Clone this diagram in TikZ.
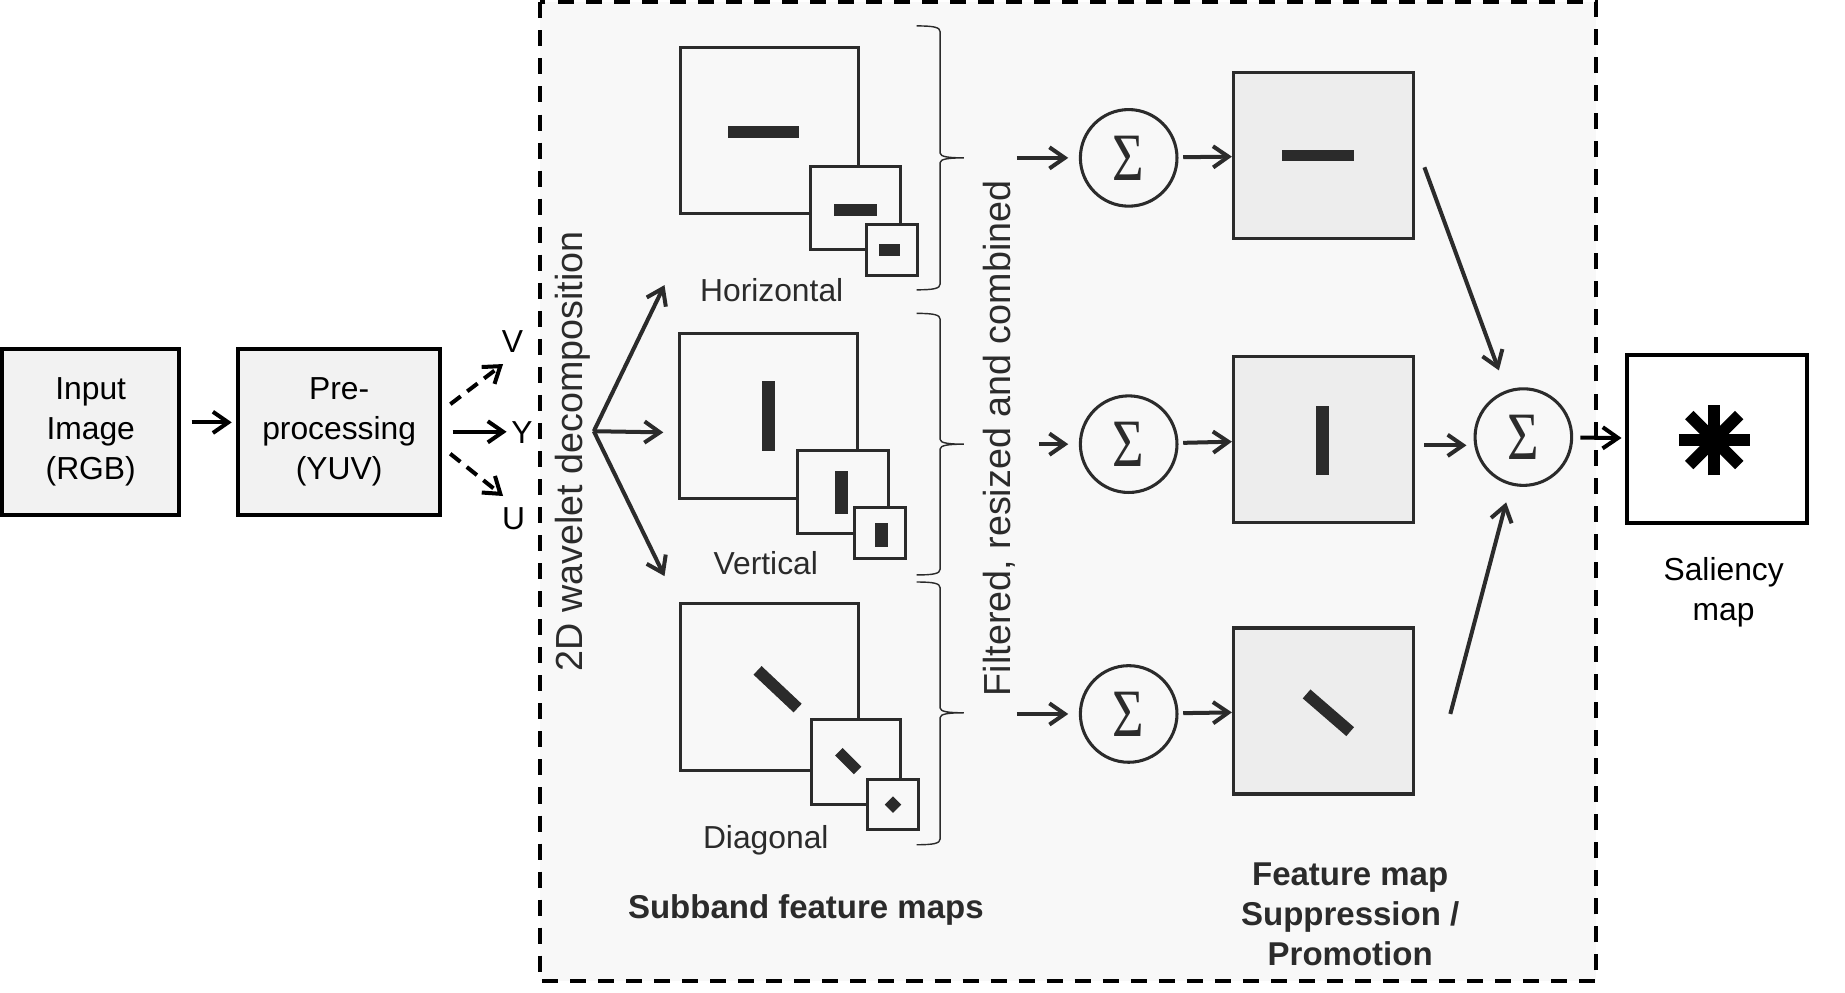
\documentclass[tikz,border=0pt]{standalone}
\usepackage{fontspec}
\setmainfont{Liberation Sans}
\newfontfamily\sigmafont{Liberation Serif}
\usepackage{graphicx}
\usepackage{tikz}
\usetikzlibrary{positioning, shapes, arrows.meta}

\definecolor{ink}{HTML}{2B2B2B}
\definecolor{blockfill}{HTML}{F2F2F2}
\definecolor{mapfill}{HTML}{EDEDED}
\definecolor{panelfill}{HTML}{F8F8F8}

\newcommand{\txt}{\fontsize{27}{34}\selectfont}
\newcommand{\sidetxt}{\fontsize{32}{38}\selectfont}
\newcommand{\sumsign}{\scalebox{1}[1.25]{\sigmafont Σ}}

\begin{document}
\begin{tikzpicture}[x=1pt, y=-1pt, >={Straight Barb[length=13pt, width=18pt]},
    block/.style={draw, line width=3.4pt, fill=blockfill, minimum width=150pt, minimum height=141pt, align=center, font=\txt, inner sep=0pt},
    submap/.style={draw=ink, line width=2.6pt, fill=panelfill, inner sep=0pt},
    featmap/.style={draw=ink, line width=2.8pt, fill=mapfill, minimum width=153pt, minimum height=141pt, inner sep=0pt},
    sumnode/.style={circle, draw=ink, line width=2.6pt, minimum size=82pt, inner sep=0pt, text=ink, font=\fontsize{46}{50}\selectfont},
    flow/.style={->, draw=ink, line width=3.4pt},
    chan/.style={->, line width=3.4pt},
    bar/.style={fill=ink, inner sep=0pt},
    tag/.style={font=\txt, text=ink},
    heading/.style={font={\fontsize{28}{34}\selectfont\bfseries}, text=ink, align=center},
    bracket/.style={draw=ink, line width=1.2pt}]
    \useasboundingbox (0,0) rectangle (1566,842);
    % Dashed panel around the wavelet stage
    \draw[dash pattern=on 13.6pt off 10.2pt, line width=3.4pt, fill=panelfill] (458,2) rectangle (1355,833);

    % Input and pre-processing
    \node[block] (inp) at (77,366.5) {Input\\Image\\(RGB)};
    \node[block, minimum width=171pt, right=47pt of inp] (pre) {Pre-\\processing\\(YUV)};
    \draw[chan, shorten <=9pt, shorten >=4pt] ([yshift=8pt]inp.east) -- ([yshift=8pt]pre.west);

    % Colour channels
    \node[font=\txt] (chv) at (435,290) {V};
    \node[font=\txt] (chy) at (443,367) {Y};
    \node[font=\txt] (chu) at (436,440) {U};
    \coordinate (vend) at (427,309);
    \coordinate (yend) at (430,366.5);
    \coordinate (uend) at (427,421);
    \draw[chan, dash pattern=on 11pt off 7pt, shorten <=9pt] ([yshift=18pt]pre.east) -- (vend);
    \draw[chan, shorten <=9pt] (pre.east) -- (yend);
    \draw[chan, dash pattern=on 11pt off 7pt, shorten <=9pt] ([yshift=-13pt]pre.east) -- (uend);

    % Wavelet decomposition
    \node[rotate=90, font=\sidetxt, text=ink] (wavelet) at (486,383) {2D wavelet decomposition};
    \coordinate (split) at (504,366);
    \coordinate (toh) at (564,242);
    \coordinate (tov) at (563,367);
    \coordinate (tod) at (564,489);
    \draw[flow] (split) -- (toh);
    \draw[flow] (split) -- (tov);
    \draw[flow] (split) -- (tod);

    % Horizontal subband
    \node[submap, minimum width=151pt, minimum height=141pt] (hbig) at (653,111) {};
    \node[submap, minimum width=76pt, minimum height=71pt] (hmid) at (726,176.5) {};
    \node[submap, minimum width=43pt, minimum height=43pt] (hsml) at (757,212) {};
    \node[bar, minimum width=61pt, minimum height=10pt] at (648,112) {};
    \node[bar, minimum width=36pt, minimum height=10pt] at (726,178) {};
    \node[bar, minimum width=18pt, minimum height=10pt] at (755,212) {};
    \node[tag] (hlabel) at (655,246) {Horizontal};

    % Vertical subband
    \node[submap, minimum width=151pt, minimum height=140pt] (vbig) at (652.5,353) {};
    \node[submap, minimum width=77pt, minimum height=71pt] (vmid) at (715.5,417.5) {};
    \node[submap, minimum width=43pt, minimum height=43pt] (vsml) at (747,452.5) {};
    \node[bar, minimum width=11pt, minimum height=60pt] at (652.5,353) {};
    \node[bar, minimum width=11pt, minimum height=36pt] at (714.5,418) {};
    \node[bar, minimum width=11pt, minimum height=20pt] at (748.5,454) {};
    \node[tag] (vlabel) at (650,478) {Vertical};

    % Diagonal subband
    \node[submap, minimum width=151pt, minimum height=142pt] (dbig) at (653,583) {};
    \node[submap, minimum width=76pt, minimum height=72pt] (dmid) at (726.5,647) {};
    \node[submap, minimum width=43pt, minimum height=42pt] (dsml) at (758,683) {};
    \draw[ink, line width=10pt] (643,569) -- (677,601);
    \draw[ink, line width=9pt] (712,638) -- (728,654);
    \fill[ink] (758,676) -- (765,683) -- (758,690) -- (751,683) -- cycle;
    \node[tag] (dlabel) at (650,713) {Diagonal};

    \node[heading] (subband) at (684,772) {Subband feature maps};

    % Braces
    \foreach \ya/\ym/\yb in {22/134/246, 266/377/488, 494/605/717}
        \draw[bracket] (778,\ya) .. controls (792,\ya) and (798,\ya+1) .. (798,\ya+5) -- (798,\ym-4)
            .. controls (798,\ym-1) and (805,\ym) .. (818,\ym)
            .. controls (805,\ym) and (798,\ym+1) .. (798,\ym+4) -- (798,\yb-5)
            .. controls (798,\yb-1) and (792,\yb) .. (778,\yb);
    \node[rotate=90, font=\sidetxt, text=ink] (filtered) at (848,372) {Filtered, resized and combined};

    % Per-subband sums
    \node[sumnode] (s1) at (958,134) {\sumsign};
    \node[sumnode] (s2) at (958,377) {\sumsign};
    \node[sumnode] (s3) at (958,606) {\sumsign};
    \coordinate (in1) at (863,134);
    \coordinate (in2) at (882,377);
    \coordinate (in3) at (863,606);
    \draw[flow, shorten >=9pt] (in1) -- (s1);
    \draw[flow, shorten >=9pt] (in2) -- (s2);
    \draw[flow, shorten >=9pt] (in3) -- (s3);

    % Feature maps
    \node[featmap] (f1) at (1123.5,132) {};
    \node[featmap] (f2) at (1123.5,373) {};
    \node[featmap] (f3) at (1123.5,603.5) {};
    \node[bar, minimum width=61pt, minimum height=10pt] at (1119,132) {};
    \node[bar, minimum width=11pt, minimum height=59pt] at (1122.5,374) {};
    \draw[ink, line width=10pt] (1109,589) -- (1146,621);
    \draw[flow, shorten <=4pt] (s1) -- (f1);
    \draw[flow, shorten <=4pt] (s2) -- (f2);
    \draw[flow, shorten <=4pt] (s3) -- (f3);
    \node[heading] (fmtxt) at (1146,776) {Feature map\\Suppression /\\Promotion};

    % Combination
    \node[sumnode] (stot) at (1293,371) {\sumsign};
    \coordinate (o1) at (1209,142);
    \coordinate (o2) at (1209,378);
    \coordinate (o3) at (1231,606);
    \draw[flow, shorten >=18pt] (o1) -- (stot);
    \draw[flow, shorten >=6pt] (o2) -- (o2 -| stot.west);
    \draw[flow, shorten >=15pt] (o3) -- (stot);

    % Saliency map
    \node[draw, line width=3.4pt, fill=white, minimum width=153pt, minimum height=143pt] (sal) at (1457.5,372.5) {};
    \draw[flow, draw=black, shorten <=6pt, shorten >=3pt] (stot) -- (sal);
    \foreach \a in {0,45,90,135}
        \draw[line width=10pt, shift={(1455,373.5)}, rotate=\a] (-30,0) -- (30,0);
    \node[font=\txt, align=center] (saltxt) at (1463,503) {Saliency\\map};
\end{tikzpicture}
\end{document}
